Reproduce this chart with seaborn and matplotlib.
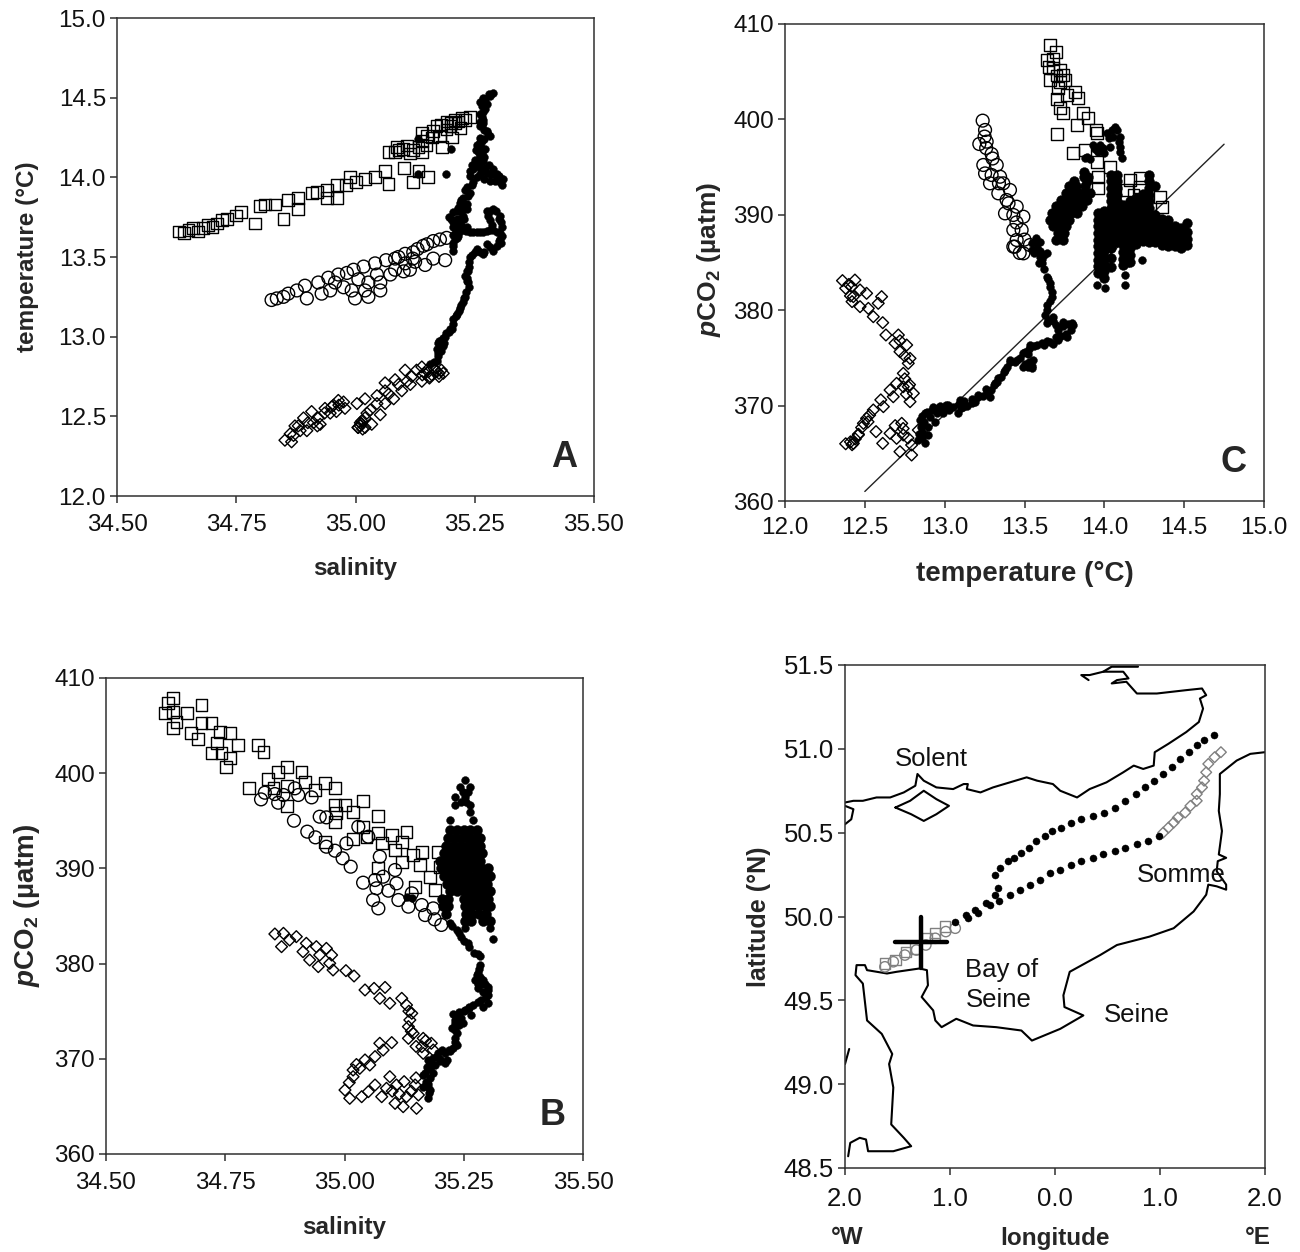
import numpy as np
import pandas as pd
import matplotlib
matplotlib.use("Agg")
import matplotlib.pyplot as plt
import seaborn as sns

# Panel A: salinity, temperature
a_squares = [(34.63,13.66),(34.64,13.65),(34.65,13.67),(34.66,13.68),(34.67,13.66),(34.68,13.68),(34.69,13.70),(34.70,13.69),
    (34.71,13.71),(34.72,13.73),(34.73,13.74),(34.75,13.76),(34.76,13.78),(34.79,13.71),(34.80,13.82),(34.81,13.83),
    (34.831,13.83),(34.849,13.74),(34.859,13.86),(34.880,13.87),(34.880,13.80),(34.908,13.90),(34.919,13.91),(34.940,13.92),
    (34.940,13.87),(34.961,13.87),(34.961,13.95),(34.980,13.95),(34.989,14.00),(35.001,13.97),(35.020,13.99),(35.041,14.00),
    (35.062,14.04),(35.069,13.96),(35.101,14.06),(35.120,13.97),(35.132,14.04),(35.152,14.00),
    (35.069,14.16),(35.087,14.19),(35.083,14.16),(35.108,14.20),(35.121,14.17),(35.132,14.19),(35.149,14.20),(35.163,14.29),
    (35.181,14.19),(35.160,14.25),(35.191,14.35),(35.202,14.25),(35.209,14.34),(35.191,14.30),(35.223,14.37),(35.240,14.38),
    (35.209,14.36),(35.139,14.16),(35.114,14.15),(35.177,14.26),(35.199,14.32),(35.216,14.35),
    (35.09,14.17),(35.10,14.18),(35.14,14.23),(35.15,14.26),(35.17,14.32),(35.18,14.33),(35.20,14.34),(35.22,14.31),(35.23,14.36),(35.14,14.28)]
a_circles = [(34.824,13.23),(34.835,13.24),(34.849,13.25),(34.859,13.27),(34.877,13.29),(34.894,13.32),(34.898,13.24),(34.922,13.34),
    (34.929,13.27),(34.943,13.37),(34.947,13.29),(34.964,13.39),(34.957,13.34),(34.982,13.40),(34.975,13.31),(34.996,13.42),
    (34.992,13.29),(34.999,13.24),(35.017,13.44),(35.006,13.36),(35.027,13.25),(35.027,13.34),(35.041,13.46),(35.045,13.39),
    (35.020,13.29),(35.064,13.48),(35.083,13.49),(35.073,13.39),(35.052,13.34),(35.104,13.52),(35.121,13.53),(35.101,13.41),
    (35.125,13.47),(35.146,13.45),(35.142,13.57),(35.163,13.49),(35.188,13.48),(35.163,13.60),(35.177,13.61),(35.191,13.62),
    (35.104,13.46),(35.083,13.42),(35.052,13.29),(35.114,13.42),(35.15,13.58),(35.13,13.55),(35.09,13.50),(35.12,13.49)]
a_diamonds = [(34.852,12.35),(34.863,12.39),(34.873,12.44),(34.891,12.49),(34.908,12.53),(34.866,12.34),(34.884,12.41),(34.898,12.41),
    (34.912,12.46),(34.922,12.49),(34.936,12.55),(34.947,12.52),(34.954,12.57),(34.964,12.60),(34.978,12.55),(34.975,12.59),
    (34.926,12.45),(34.870,12.38),(35.003,12.58),(35.020,12.61),(35.045,12.63),(35.062,12.71),(35.083,12.73),(35.104,12.79),
    (35.118,12.75),(35.006,12.43),(35.013,12.47),(35.024,12.52),(35.034,12.45),(35.052,12.51),(35.062,12.58),(35.080,12.61),
    (35.097,12.66),(35.062,12.66),(35.108,12.72),(35.128,12.79),(35.139,12.81),(35.153,12.78),(35.170,12.78),(35.184,12.77),
    (35.139,12.72),(35.156,12.75),(35.010,12.46),(35.020,12.49),(35.031,12.54),(35.045,12.58),
    (35.005,12.43),(35.01,12.44),(35.015,12.42),(35.012,12.455),(35.02,12.43),(35.145,12.77),(35.15,12.79),(35.16,12.76),
    (35.165,12.80),(35.175,12.77),(35.18,12.79),(35.155,12.74),(35.14,12.76),(35.175,12.75),(34.88,12.44),(34.90,12.46),
    (34.92,12.44),(34.935,12.52),(34.95,12.56),(34.96,12.53),(34.965,12.57),(35.07,12.64),(35.09,12.70),(35.115,12.70)]
a_dots = [(35.289,14.53),(35.279,14.52),(35.268,14.50),(35.261,14.47),(35.272,14.43),(35.261,14.40),(35.268,14.36),(35.261,14.32),
    (35.275,14.29),(35.282,14.26),(35.265,14.23),(35.254,14.20),(35.272,14.18),(35.258,14.15),(35.251,14.11),(35.268,14.10),
    (35.279,14.08),(35.258,14.07),(35.240,14.04),(35.268,14.04),(35.289,14.05),(35.296,14.02),(35.310,13.99),(35.307,13.95),
    (35.282,13.98),(35.261,14.02),(35.247,13.97),(35.233,13.94),(35.240,13.90),(35.226,13.87),(35.219,13.84),(35.233,13.83),
    (35.212,13.79),(35.233,13.80),(35.195,13.75),(35.219,13.73),(35.205,13.69),(35.233,13.69),(35.205,13.64),(35.216,13.66),
    (35.247,13.66),(35.268,13.66),(35.289,13.67),(35.303,13.65),(35.307,13.69),(35.300,13.74),(35.289,13.80),(35.275,13.79),
    (35.282,13.73),(35.205,13.59),(35.205,13.54),(35.303,13.61),(35.289,13.54),(35.268,13.52),(35.254,13.55),(35.240,13.50),
    (35.237,13.44),(35.230,13.38),(35.237,13.31),(35.230,13.25),(35.219,13.18),(35.205,13.11),(35.202,13.05),(35.188,13.00),
    (35.174,12.96),(35.184,12.94),(35.174,12.90),(35.170,12.85),(35.156,12.83),(35.226,13.80),(35.212,13.74),(35.226,13.76),
    (35.219,13.70),(35.205,13.72),(35.233,13.41),(35.233,13.35),(35.226,13.22),(35.212,13.14),(35.195,13.03),(35.181,12.98),
    (35.170,12.92),(35.272,14.06),(35.254,14.09),(35.265,14.15),(35.275,14.46),(35.268,14.34),(35.247,14.05),(35.30,14.01),
    (35.212,13.62),(35.219,13.82),(35.282,14.02),(35.30,13.60),(35.275,13.58),(35.262,14.25),
    (35.13,14.02),(35.19,14.02),(35.13,14.24),(35.20,14.18),
    (35.283,14.51),(35.272,14.49),(35.266,14.45),(35.268,14.41),(35.266,14.38),(35.262,14.35),(35.265,14.33),(35.270,14.30),
    (35.277,14.27),(35.270,14.24),(35.260,14.22),(35.263,14.19),(35.252,14.17),(35.262,14.13),(35.270,14.13),(35.258,14.10),
    (35.245,14.08),(35.262,14.06),(35.275,14.03),(35.288,14.02),(35.300,14.00),(35.292,13.98),(35.302,13.97),(35.270,13.99),
    (35.255,14.00),(35.240,14.01),(35.245,13.95),(35.230,13.92),(35.235,13.88),(35.222,13.86),(35.215,13.81),(35.205,13.78),
    (35.222,13.78),(35.200,13.74),(35.228,13.74),(35.210,13.71),(35.222,13.70),(35.210,13.67),(35.225,13.67),(35.208,13.61),
    (35.205,13.57),(35.215,13.63),(35.232,13.665),(35.240,13.66),(35.254,13.66),(35.262,13.66),(35.275,13.665),(35.283,13.67),
    (35.296,13.66),(35.305,13.72),(35.302,13.76),(35.295,13.79),(35.283,13.79),(35.278,13.76),(35.286,13.70),(35.308,13.63),
    (35.305,13.59),(35.296,13.57),(35.283,13.56),(35.270,13.53),(35.261,13.53),(35.250,13.53),(35.245,13.51),(35.238,13.47),
    (35.236,13.41),(35.233,13.37),(35.235,13.34),(35.232,13.28),(35.228,13.24),(35.222,13.20),(35.216,13.16),(35.210,13.13),
    (35.205,13.08),(35.198,13.05),(35.190,13.02),(35.184,12.99),(35.176,12.97),(35.186,12.96),(35.178,12.93),(35.172,12.88),
    (35.180,12.91),(35.165,12.84)]

# Panel B: salinity, pCO2
b_squares = [(34.630,407.34),(34.641,407.86),(34.623,406.29),(34.641,406.46),(34.669,406.29),(34.700,407.17),(34.648,405.41),(34.640,404.71),
    (34.679,404.19),(34.700,405.31),(34.721,405.24),(34.693,403.56),(34.739,404.36),(34.760,404.19),(34.732,403.21),(34.777,402.96),
    (34.721,402.09),(34.760,401.56),(34.742,402.09),(34.751,400.69),(34.819,402.96),(34.830,402.26),(34.800,398.48),(34.840,399.39),
    (34.861,400.16),(34.880,400.62),(34.910,400.16),(34.851,398.41),(34.880,398.66),(34.917,399.11),(34.959,398.94),(34.980,398.41),
    (34.879,396.55),(34.938,398.23),(34.980,396.66),(35.001,396.66),(35.039,397.11),(35.071,395.50),(34.980,394.91),(35.018,395.96),
    (35.039,394.38),(35.071,393.68),(35.099,393.51),(35.130,393.86),(35.018,393.05),(34.959,392.74),(35.078,392.63),(35.120,392.81),
    (35.162,391.76),(35.196,391.76),(35.120,390.71),(35.158,390.36),(35.071,390.08),(35.179,389.13),(35.148,388.08),(35.189,387.73),
    (35.046,393.33),(34.983,395.78),(35.106,391.93),(35.144,391.41),(35.200,390.18)]
b_circles = [(34.825,397.25),(34.833,397.95),(34.861,396.90),(34.854,397.81),(34.872,397.71),(34.896,398.41),(34.903,397.71),(34.931,397.46),
    (34.894,395.01),(34.922,393.86),(34.939,393.26),(34.962,392.28),(34.980,391.86),(34.996,391.06),(35.013,390.18),(34.948,395.43),
    (34.962,395.36),(35.004,392.63),(35.029,394.38),(35.039,388.50),(35.060,386.68),(35.071,385.80),(35.064,388.78),(35.067,387.91),
    (35.092,387.66),(35.081,389.13),(35.113,386.68),(35.109,388.43),(35.134,385.98),(35.162,386.15),(35.169,385.10),(35.189,384.65),
    (35.203,384.06),(35.050,393.33),(35.074,391.23),(35.106,389.83),(35.141,387.38),(35.186,385.80)]
b_diamonds = [(34.854,383.11),(34.872,383.18),(34.899,382.83),(34.868,381.78),(34.885,382.48),(34.920,382.13),(34.941,381.78),(34.913,381.25),
    (34.962,381.60),(34.927,380.38),(34.948,380.90),(34.973,380.90),(34.945,379.68),(34.969,380.03),(34.976,379.33),(35.003,379.26),
    (35.020,378.70),(35.043,377.23),(35.062,377.40),(35.085,377.50),(35.074,376.35),(35.095,375.83),(35.120,376.35),(35.130,375.65),
    (35.141,374.78),(35.137,374.08),(35.134,373.38),(35.134,372.15),(35.144,372.67),(35.165,372.15),(35.182,371.63),(35.162,371.27),
    (35.186,370.92),(35.165,370.57),(35.099,371.70),(35.074,371.63),(35.081,370.92),(35.064,370.23),(35.043,369.88),(35.053,369.35),
    (35.032,369.00),(35.018,368.82),(35.018,368.12),(35.001,366.72),(35.011,365.85),(35.036,366.02),(35.050,366.55),(35.064,367.25),
    (35.078,366.02),(35.095,368.12),(35.088,366.90),(35.109,367.25),(35.106,365.32),(35.130,366.02),(35.148,367.25),(35.151,364.80),
    (35.123,364.97),(35.155,366.20),(35.10,366.6),(35.115,366.3),(35.14,366.6),(35.125,367.6),(35.15,368.0),(35.025,369.4),(35.01,367.5),
    (35.135,375.0),(35.14,372.9),(35.15,371.3),(35.17,371.9)]
b_dots = [(35.252,399.29),(35.242,398.59),(35.263,398.59),(35.231,397.54),(35.252,397.54),(35.263,396.66),(35.231,396.66),(35.221,395.08),
    (35.263,395.96),(35.270,395.08),(35.221,394.03),(35.248,398.0),(35.258,398.0),(35.245,397.0),(35.255,397.0),
    (35.312,382.55),(35.305,383.70),(35.221,384.23),(35.235,383.53),(35.252,383.70),(35.245,382.83),(35.259,382.13),(35.280,380.97),(35.284,379.85),
    (35.280,378.98),(35.273,378.28),(35.291,378.28),(35.280,377.40),(35.301,377.58),(35.301,376.70),(35.287,376.18),(35.270,375.65),
    (35.252,375.13),(35.235,374.60),(35.231,373.72),(35.249,373.72),(35.235,372.67),(35.231,371.80),(35.228,371.10),(35.210,370.57),
    (35.210,369.52),(35.193,370.23),(35.179,369.52),(35.169,368.47),(35.186,368.47),(35.172,367.42),(35.179,366.72),(35.176,365.85),
    (35.130,387.03),(35.141,386.85),(35.231,373.02),(35.266,374.60),(35.291,375.48),(35.301,375.83),(35.28,377.9),(35.29,377.0),
    (35.26,375.4),(35.24,374.2),(35.22,370.9),(35.20,370.0),(35.175,369.0),(35.176,367.0),
    (35.225,383.9),(35.24,383.2),(35.25,382.4),(35.262,381.7),(35.272,381.1),(35.285,380.8),(35.283,379.4),(35.278,378.8),
    (35.285,378.6),(35.288,377.9),(35.295,377.9),(35.30,377.2),(35.296,376.5),(35.28,376.0),(35.262,375.3),(35.25,375.0),
    (35.24,374.9),(35.228,374.7),(35.232,374.1),(35.245,374.3),(35.24,373.5),(35.225,373.2),(35.232,372.2),(35.235,371.5),
    (35.222,370.8),(35.205,370.9),(35.195,370.6),(35.185,370.1),(35.2,369.8),(35.215,369.9),(35.175,369.9),(35.172,369.1),
    (35.18,368.9),(35.165,368.3),(35.18,368.0),(35.17,367.6),(35.176,367.4),(35.178,366.4),(35.165,367.0),(35.19,369.4)]
# solid core of the black cloud in B, pCO2 row with the salinities read along it
b_core = [(394.0,[35.222,35.236,35.250,35.264,35.278]),
    (393.2,[35.218,35.232,35.246,35.260,35.274,35.285]),
    (392.4,[35.213,35.228,35.242,35.256,35.270,35.284]),
    (391.6,[35.208,35.222,35.236,35.250,35.264,35.278,35.288]),
    (390.8,[35.200,35.214,35.228,35.242,35.256,35.270,35.284]),
    (390.0,[35.203,35.217,35.231,35.245,35.259,35.273,35.287,35.300]),
    (389.2,[35.208,35.222,35.236,35.250,35.264,35.278,35.292,35.306]),
    (388.4,[35.215,35.229,35.243,35.257,35.271,35.285,35.299]),
    (387.6,[35.222,35.236,35.250,35.264,35.278,35.292,35.306]),
    (386.8,[35.205,35.218,35.250,35.260,35.272,35.286,35.300]),
    (386.0,[35.207,35.216,35.252,35.266,35.280,35.294,35.306]),
    (385.2,[35.212,35.255,35.268,35.282,35.296]),
    (384.5,[35.252,35.265,35.290,35.305])]

# Panel C: temperature, pCO2
c_squares = [(13.660,407.80),(13.697,407.10),(13.639,406.23),(13.680,405.35),(13.722,405.18),(13.754,404.13),(13.660,404.13),(13.712,403.26),
    (13.816,402.91),(13.833,402.28),(13.706,402.10),(13.764,402.56),(13.722,401.16),(13.739,400.63),(13.868,400.63),(13.900,400.11),
    (13.827,399.41),(13.706,398.43),(13.948,398.89),(13.952,398.54),(13.806,396.51),(13.879,396.79),(13.952,395.57),(14.035,395.04),
    (13.962,393.99),(13.962,392.77),(14.161,393.65),(14.223,393.82),(14.223,392.95),(14.182,392.07),(14.349,391.90),(14.359,390.85),
    (14.296,389.80),(14.349,388.41),(14.140,392.60),(13.739,404.65),(13.65,405.5),(13.68,406.3),(13.70,404.6),(13.72,403.9)]
c_circles = [(13.238,399.87),(13.253,398.89),(13.217,397.42),(13.263,397.67),(13.294,396.37),(13.242,395.22),(13.326,395.22),(13.294,394.17),
    (13.367,393.30),(13.409,392.60),(13.336,392.25),(13.451,390.85),(13.378,390.15),(13.430,389.98),(13.493,389.80),(13.482,388.41),
    (13.430,388.41),(13.451,387.36),(13.534,386.83),(13.430,386.66),(13.493,385.96),(13.284,393.30),(13.253,394.34),(13.347,393.99),
    (13.388,391.55),(13.440,386.66),(13.25,398.2),(13.26,397.0),(13.30,395.9),(13.34,393.3),(13.40,391.2),(13.45,389.2),(13.50,387.4),(13.47,386.0)]
c_diamonds = [(12.36,383.1),(12.40,382.7),(12.38,382.3),(12.41,381.5),(12.42,380.9),(12.41,366.2),(12.44,366.5),(12.46,367.0),
    (12.38,366.0),(12.42,365.9),(12.48,367.7),(12.52,368.3),(12.438,383.16),(12.417,382.47),(12.470,382.12),(12.511,381.77),
    (12.605,381.42),(12.428,381.42),(12.470,380.37),(12.522,380.19),(12.584,380.72),(12.553,379.32),(12.612,378.69),(12.632,377.40),
    (12.710,377.40),(12.689,376.53),(12.762,376.35),(12.720,375.65),(12.783,374.95),(12.772,374.43),(12.741,373.38),(12.699,372.33),
    (12.772,371.98),(12.804,371.29),(12.783,370.41),(12.741,371.98),(12.658,371.63),(12.678,370.93),(12.616,369.89),(12.553,369.54),
    (12.491,368.14),(12.459,366.92),(12.428,366.04),(12.511,368.66),(12.570,367.27),(12.612,366.04),(12.658,367.09),(12.699,366.57),
    (12.731,368.14),(12.741,366.92),(12.720,365.17),(12.793,364.82),(12.793,365.87),(12.835,367.44),
    (12.75,372.8),(12.78,372.2),(12.76,371.2),(12.72,376.8),(12.75,375.2),(12.60,370.6),(12.53,369.0),(12.74,367.6),(12.77,366.6),(12.69,367.9)]
c_dots = [(12.877,366.04),(12.835,366.39),(12.856,367.27),(12.845,368.49),(12.877,369.19),(12.918,369.54),(12.960,369.71),(13.023,370.06),
    (12.939,368.31),(12.898,367.79),(12.898,366.92),(12.992,369.19),(13.096,370.59),(13.085,369.19),(13.117,369.89),(13.169,370.24),
    (13.211,370.93),(13.263,371.46),(13.284,370.93),(13.315,372.33),(13.336,372.86),(13.378,373.73),(13.409,374.78),(13.451,374.78),
    (13.503,375.65),(13.493,374.08),(13.545,373.90),(13.555,374.78),(13.534,376.35),(13.607,376.53),(13.660,376.70),(13.712,376.88),
    (13.764,377.23),(13.806,378.45),(13.743,378.80),(13.680,379.32),(13.712,377.92),(13.639,378.62),(13.639,380.02),(13.670,381.42),
    (13.660,382.47),(13.639,383.51),(13.607,384.91),(13.639,385.96),(13.576,387.01),(13.545,386.31),(13.597,385.61),(13.597,387.18),
    (14.067,399.24),(14.015,398.54),(14.098,398.19),(14.098,397.14),(14.108,395.92),(14.035,397.14),(13.973,397.32),(13.931,397.32),
    (13.889,396.09),(14.056,398.19),(13.952,382.64),(14.004,382.29),(14.129,382.64),(14.129,383.69),(14.234,385.26),(14.150,384.91),
    (14.05,398.9),(14.08,398.9),(14.03,398.0),(14.09,397.6),(14.10,396.6),(13.99,397.0),(13.96,396.6),(13.94,396.9),(14.0,396.5),(13.91,395.9),(13.88,395.95),
    (12.86,366.6),(12.84,367.0),(12.85,367.8),(12.87,368.3),(12.86,368.9),(12.89,369.3),(12.91,368.8),(12.93,369.9),(12.95,369.2),(12.97,370.0),
    (12.99,369.6),(13.01,370.1),(13.03,369.5),(13.05,369.9),(13.09,370.2),(13.10,369.7),(13.12,370.5),(13.14,370.0),(13.17,370.7),(13.19,370.4),
    (13.21,371.1),(13.24,371.0),(13.26,371.7),(13.29,371.6),(13.31,372.2),(13.33,372.5),(13.35,373.0),(13.37,373.5),(13.39,374.0),(13.41,374.6),
    (13.44,374.6),(13.47,375.0),(13.49,375.5),(13.50,374.4),(13.52,374.0),(13.53,374.6),(13.55,374.2),(13.52,375.4),(13.53,375.9),(13.56,376.2),
    (13.58,376.3),(13.62,376.4),(13.64,376.8),(13.68,376.5),(13.70,377.2),(13.73,377.3),(13.76,377.5),(13.79,377.9),(13.80,378.7),(13.77,378.6),
    (13.74,378.3),(13.70,378.4),(13.68,378.9),(13.65,379.0),(13.63,379.5),(13.64,380.5),(13.66,381.0),(13.67,381.9),(13.66,382.9),(13.65,383.3),
    (13.62,384.3),(13.59,385.0),(13.61,385.4),(13.56,386.0),(13.58,386.5),(13.60,386.2),(13.62,385.8),(13.55,387.0),(13.57,387.6)]
# band of dots left of the main cloud in C, pCO2 row with temperatures
c_band = [(394.5,[13.87]),(394.0,[13.87,13.90]),(393.5,[13.81,13.89]),(393.0,[13.78,13.82,13.88]),
    (392.3,[13.76,13.80,13.84,13.88,13.91]),(391.6,[13.73,13.77,13.81,13.85,13.89]),(390.9,[13.70,13.74,13.78,13.82,13.86]),
    (390.2,[13.67,13.71,13.75,13.79,13.83]),(389.5,[13.66,13.70,13.74,13.78]),(388.8,[13.68,13.72,13.76]),(388.1,[13.71,13.75]),(387.4,[13.70,13.74])]
# main black cloud in C, temperature column with the pCO2 values read along it
c_core = [(13.96,[390.2,389.5,388.8,388.1,387.4,386.7,386.0,385.3,384.6,383.9]),
    (14.00,[390.4,389.7,389.0,388.3,387.6,386.9,386.2,385.5,384.8,384.1,383.4]),
    (14.04,[394.2,393.5,392.8,392.1,391.4,390.7,390.0,389.3,388.6,387.9,387.2,386.5,385.5,384.5]),
    (14.08,[394.2,393.5,392.8,392.1,391.4,390.7,390.0,389.3,388.6,387.9,387.2]),
    (14.12,[391.0,390.3,389.6,388.9,388.2,387.5,386.8,386.1,385.4,384.7]),
    (14.16,[391.4,390.7,390.0,389.3,388.6,387.9,387.2,386.5,385.8,385.1]),
    (14.20,[391.8,391.1,390.4,389.7,389.0,388.3,387.6,386.9]),
    (14.24,[392.2,391.5,390.8,390.1,389.4,388.7,388.0,387.3]),
    (14.28,[394.2,393.5,392.8,392.1,391.4,390.7,390.0,389.3,388.6,387.9,387.2]),
    (14.32,[393.0,390.0,389.3,388.6,387.9,387.2]),
    (14.36,[389.6,388.9,388.2,387.5,386.8]),
    (14.40,[389.5,388.8,388.1,387.4,386.7]),
    (14.44,[388.8,388.1,387.4,386.7]),
    (14.48,[388.6,387.9,387.2,386.5]),
    (14.52,[389.1,388.2,387.5,386.8])]
line_temp = [12.5, 14.75]
line_pco2 = [361.0, 397.4]

# Map panel
coast_north = [(-2.00,50.68),(-1.92,50.69),(-1.83,50.69),(-1.70,50.71),(-1.57,50.71),(-1.44,50.74),(-1.33,50.78),(-1.31,50.85),(-1.25,50.81),
    (-1.13,50.77),(-0.97,50.76),(-0.87,50.79),(-0.83,50.79),(-0.84,50.76),(-0.71,50.74),(-0.59,50.77),(-0.43,50.80),(-0.27,50.83),(-0.17,50.81),
    (-0.02,50.79),(0.05,50.75),(0.21,50.71),(0.33,50.76),(0.49,50.80),(0.65,50.86),(0.75,50.90),(0.84,50.88),(0.94,50.90),(0.95,50.98),(1.08,51.03),
    (1.25,51.10),(1.37,51.16),(1.41,51.24),(1.38,51.30),(1.44,51.32),(1.40,51.36),(1.25,51.35),(0.97,51.33),(0.78,51.33),(0.68,51.40),(0.54,51.39),
    (0.59,51.41),(0.70,51.42),(0.65,51.46),(0.46,51.46),(0.33,51.44),(0.25,51.44),(0.32,51.41)]
coast_thames = [(0.46,51.46),(0.54,51.49),(0.79,51.49)]
coast_wight = [(-1.52,50.65),(-1.38,50.69),(-1.25,50.75),(-1.13,50.70),(-1.01,50.66),(-1.13,50.61),(-1.25,50.57),(-1.37,50.61),(-1.52,50.65)]
coast_west = [(-2.00,50.66),(-1.92,50.64),(-1.94,50.58),(-2.00,50.55)]
coast_sw = [(-1.96,49.21),(-2.00,49.12)]
coast_south = [(2.00,50.98),(1.86,50.97),(1.73,50.93),(1.57,50.85),(1.57,50.73),(1.56,50.63),(1.59,50.51),(1.56,50.37),(1.63,50.35),(1.55,50.33),
    (1.54,50.27),(1.63,50.19),(1.63,50.16),(1.54,50.18),(1.46,50.19),(1.44,50.13),(1.32,50.03),(1.13,49.93),(0.90,49.88),(0.59,49.83),(0.43,49.77),
    (0.14,49.67),(0.08,49.53),(0.09,49.46),(0.27,49.41),(0.05,49.33),(-0.22,49.26),(-0.32,49.32),(-0.56,49.34),(-0.78,49.35),(-0.94,49.39),
    (-1.08,49.34),(-1.14,49.38),(-1.16,49.44),(-1.27,49.52),(-1.21,49.59),(-1.22,49.68),(-1.29,49.69),(-1.51,49.67),(-1.60,49.66),(-1.79,49.68),
    (-1.81,49.71),(-1.89,49.71),(-1.90,49.65),(-1.83,49.60),(-1.79,49.38),(-1.65,49.30),(-1.55,49.18),(-1.58,49.12),(-1.54,48.98),(-1.56,48.76),
    (-1.44,48.68),(-1.37,48.63),(-1.54,48.60),(-1.78,48.60),(-1.80,48.67),(-1.86,48.68),(-1.95,48.65),(-1.97,48.57)]
map_dots = [(1.51,51.08),(1.42,51.05),(1.35,51.02),(1.28,50.98),(1.19,50.94),(1.11,50.89),(1.03,50.85),(0.94,50.81),(0.86,50.77),(0.77,50.73),
    (0.67,50.69),(0.57,50.65),(0.47,50.62),(0.36,50.60),(0.25,50.58),(0.15,50.56),(0.06,50.53),(-0.03,50.51),(-0.10,50.48),(-0.18,50.45),(-0.25,50.41),
    (-0.32,50.38),(-0.39,50.35),(-0.45,50.33),(-0.52,50.29),(-0.57,50.25),(0.99,50.48),(0.89,50.45),(0.78,50.43),(0.67,50.41),(0.57,50.39),(0.46,50.37),
    (0.36,50.35),(0.25,50.33),(0.15,50.31),(0.05,50.28),(-0.05,50.26),(-0.14,50.22),(-0.24,50.19),(-0.33,50.16),(-0.43,50.13),(-0.53,50.09),(-0.54,50.17),
    (-0.57,50.13),(-0.62,50.07),(-0.66,50.08),(-0.73,50.02),(-0.76,50.04),(-0.83,49.99),(-0.85,50.01),(-0.95,49.97)]
map_diamonds = [(1.58,50.98),(1.52,50.95),(1.46,50.91),(1.44,50.86),(1.42,50.81),(1.40,50.77),(1.35,50.73),(1.35,50.69),(1.29,50.66),(1.24,50.62),
    (1.17,50.59),(1.13,50.56),(1.08,50.53),(1.03,50.50)]
map_squares = [(-1.05,49.94),(-1.14,49.90),(-1.22,49.87),(-1.33,49.81),(-1.42,49.79),(-1.52,49.74),(-1.62,49.72)]
map_circles = [(-0.95,49.93),(-1.04,49.91),(-1.14,49.87),(-1.23,49.83),(-1.32,49.80),(-1.43,49.77),(-1.54,49.73),(-1.62,49.70)]
cross_lon = [-1.52, -1.03]
cross_lat = [50.00, 49.69]
cross_center = (-1.28, 49.85)
map_xticks = [-2, -1, 0, 1, 2]
map_xlabels = ["2.0", "1.0", "0.0", "1.0", "2.0"]
map_yticks = [48.5, 49.0, 49.5, 50.0, 50.5, 51.0, 51.5]
sal_ticks = [34.5, 34.75, 35.0, 35.25, 35.5]
temp_ticks = [12.0, 12.5, 13.0, 13.5, 14.0, 14.5, 15.0]
pco2_ticks = [360, 370, 380, 390, 400, 410]

sns.set_style("ticks")
plt.rcParams["font.family"] = ["Liberation Sans", "DejaVu Sans"]
plt.rcParams["mathtext.fontset"] = "custom"
plt.rcParams["mathtext.bf"] = "Liberation Sans:bold"
plt.rcParams["mathtext.bfit"] = "Liberation Sans:italic:bold"
plt.rcParams["mathtext.rm"] = "Liberation Sans"

W, H = 1300, 1252
fig = plt.figure(figsize=(W / 100, H / 100), dpi=100, facecolor="white")


def box(left, top, right, bottom, tick_size=17.5, xpad=8):
    ax = fig.add_axes([left / W, 1 - bottom / H, (right - left) / W, (bottom - top) / H])
    for s in ax.spines.values():
        s.set_linewidth(1.1)
        s.set_color("#303030")
    ax.tick_params(direction="out", length=5, width=1.1, color="#303030", labelsize=tick_size, pad=3, labelcolor="#111111")
    ax.tick_params(axis="x", pad=xpad)
    return ax


def pts(ax, data, marker, size, fill=False, color="black", lw=1.0):
    df = pd.DataFrame(data, columns=["x", "y"])
    if fill:
        sns.scatterplot(data=df, x="x", y="y", marker=marker, s=size, color=color, edgecolor=color, linewidth=0.3, ax=ax, zorder=3)
    else:
        sns.scatterplot(data=df, x="x", y="y", marker=marker, s=size, facecolors="none", edgecolor=color, linewidth=lw, ax=ax, zorder=2)


def coast(ax, data, lw=1.5):
    df = pd.DataFrame(data, columns=["x", "y"])
    sns.lineplot(data=df, x="x", y="y", sort=False, estimator=None, color="black", linewidth=lw, ax=ax)


def panel(ax, squares, circles, diamonds, dots, letter):
    pts(ax, diamonds, "D", 36)
    pts(ax, circles, "o", 85)
    pts(ax, squares, "s", 72)
    pts(ax, dots, "o", 32, fill=True)
    ax.text(0.937, 0.08, letter, transform=ax.transAxes, fontsize=26, fontweight="bold", ha="center", va="center")


PCO2_LABEL = r"$\mathbfit{p}\mathbf{CO}_\mathbf{2}$ (µatm)"

# A
ax = box(117, 18, 594, 496)
panel(ax, a_squares, a_circles, a_diamonds, a_dots, "A")
ax.set_xlim(34.5, 35.5)
ax.set_ylim(12, 15)
ax.set_xticks(sal_ticks, [f"{t:.2f}" for t in sal_ticks])
ax.set_yticks(temp_ticks, [f"{t:.1f}" for t in temp_ticks])
ax.set_xlabel("salinity", fontsize=17.5, fontweight="bold", labelpad=15)
ax.set_ylabel("temperature (°C)", fontsize=17.5, fontweight="bold", labelpad=14)

# B
ax = box(106, 678, 583, 1154)
panel(ax, b_squares, b_circles, b_diamonds, b_dots, "B")
pts(ax, [(s, p) for p, row in b_core for s in row], "o", 52, fill=True)
ax.set_xlim(34.5, 35.5)
ax.set_ylim(360, 410)
ax.set_xticks(sal_ticks, [f"{t:.2f}" for t in sal_ticks])
ax.set_yticks(pco2_ticks)
ax.set_xlabel("salinity", fontsize=17.5, fontweight="bold", labelpad=16)
ax.set_ylabel(PCO2_LABEL, fontsize=20, fontweight="bold", labelpad=9, y=0.523)

# C
ax = box(785, 24, 1264, 501, xpad=6.5)
panel(ax, c_squares, c_circles, c_diamonds, c_dots, "C")
pts(ax, [(t, p) for p, row in c_band for t in row], "o", 50, fill=True)
pts(ax, [(t, p) for t, col in c_core for p in col], "o", 50, fill=True)
sns.lineplot(x=line_temp, y=line_pco2, color="#222222", linewidth=1.0, ax=ax, zorder=1)
ax.set_xlim(12, 15)
ax.set_ylim(360, 410)
ax.set_xticks(temp_ticks, [f"{t:.1f}" for t in temp_ticks])
ax.set_yticks(pco2_ticks)
ax.set_xlabel("temperature (°C)", fontsize=20, fontweight="bold", labelpad=16)
ax.set_ylabel(PCO2_LABEL, fontsize=19, fontweight="bold", labelpad=7, y=0.507)

# Map
ax = box(845, 665, 1265, 1168, tick_size=18.5, xpad=8.5)
for seg in [coast_north, coast_wight, coast_west, coast_sw, coast_south]:
    coast(ax, seg)
coast(ax, coast_thames, lw=1.6)
pts(ax, map_diamonds, "D", 30, color="#808080")
pts(ax, map_squares, "s", 55, color="#808080")
pts(ax, map_circles, "o", 55, color="#808080")
pts(ax, map_dots, "o", 26, fill=True)
sns.lineplot(x=cross_lon, y=[cross_center[1]] * 2, sort=False, estimator=None, color="black", linewidth=3.2, ax=ax, zorder=4)
sns.lineplot(x=[cross_center[0]] * 2, y=cross_lat, sort=False, estimator=None, color="black", linewidth=3.2, ax=ax, zorder=4)
ax.set_xlim(-2, 2)
ax.set_ylim(48.5, 51.5)
ax.set_xticks(map_xticks, map_xlabels)
ax.set_yticks(map_yticks, [f"{t:.1f}" for t in map_yticks])
ax.set_xlabel("")
ax.set_ylabel("latitude (°N)", fontsize=18, fontweight="bold", labelpad=9)
for txt, lon, lat in [("Solent", -1.18, 50.94), ("Somme", 1.20, 50.25), ("Bay of", -0.51, 49.68), ("Seine", -0.54, 49.50), ("Seine", 0.78, 49.41)]:
    ax.text(lon, lat, txt, fontsize=18.5, ha="center", va="center", color="#111111")
for txt, px in [("°W", 847), ("longitude", 1055), ("°E", 1258)]:
    fig.text(px / W, 1 - 1238 / H, txt, fontsize=17.5, fontweight="bold", ha="center", va="center")

fig.savefig("out.png", dpi=100, facecolor="white")
